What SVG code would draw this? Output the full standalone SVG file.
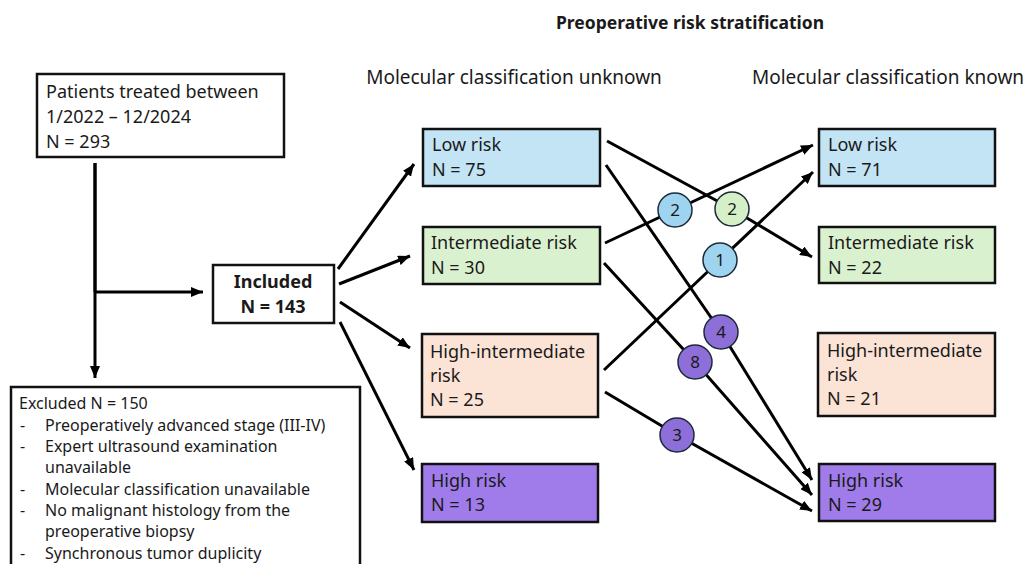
<svg xmlns="http://www.w3.org/2000/svg" width="1024" height="564" viewBox="0 0 1024 564">
<defs>
<marker id="ah" viewBox="0 0 12 10" refX="12" refY="5" markerWidth="12" markerHeight="10" markerUnits="userSpaceOnUse" orient="auto">
<path d="M0,0 L12,5 L0,10 z" fill="#000"/>
</marker>
<style>
text{font-family:"Noto Sans","Liberation Sans",Arial,sans-serif;fill:#1a1a1a;}
.box{stroke:#111;stroke-width:2.5;}
.wb{fill:#fff;}
.low{fill:#c2e4f5;}
.int{fill:#daf1d0;}
.hint{fill:#fbe3d6;}
.high{fill:#a07ceb;}
.t{font-size:18px;}
.ex{font-size:16px;}
.hd{font-size:19px;}
.ttl{font-size:17.5px;font-weight:bold;}
.bold{font-size:18px;font-weight:bold;}
.conn{fill:none;stroke:#000;stroke-width:3;marker-end:url(#ah);}
.ln{fill:none;stroke:#000;stroke-width:3;}
.cc{stroke:#1c2b3a;stroke-width:1.5;}
.cb{fill:#9fd4f0;}
.cg{fill:#d5efc7;}
.cp{fill:#8e6fd9;}
.ct{font-size:17px;text-anchor:middle;}
</style>
</defs>
<rect width="1024" height="564" fill="#fff"/>

<g id="headers">
<text class="ttl" x="690" y="29" text-anchor="middle">Preoperative risk stratification</text>
<text class="hd" x="514" y="84" text-anchor="middle">Molecular classification unknown</text>
<text class="hd" x="888" y="84" text-anchor="middle">Molecular classification known</text>
</g>

<g id="connectors">
<path class="ln" d="M95,163 L95,292"/>
<path class="conn" d="M95,163 L95,378"/>
<path class="conn" d="M95,292 L203,292"/>
<path class="conn" d="M338,269 L414,164"/>
<path class="conn" d="M339,284 L410,256"/>
<path class="conn" d="M340,302 L410,348"/>
<path class="conn" d="M340,322 L414,470"/>
<path class="conn" d="M607,141 L732,209 L812,257"/>
<path class="conn" d="M606,165 L721,332 L812,480"/>
<path class="conn" d="M605,243 L675,210 L813,145"/>
<path class="conn" d="M604,263 L695,362 L812,495"/>
<path class="conn" d="M604,370 L720,260 L813,172"/>
<path class="conn" d="M605,392 L677,435 L812,511"/>
<g id="label-c2blue"><circle class="cc cb" cx="675" cy="210" r="17"/><text class="ct" x="675" y="216">2</text></g>
<g id="label-c2green"><circle class="cc cg" cx="732" cy="209" r="17"/><text class="ct" x="732" y="215">2</text></g>
<g id="label-c1"><circle class="cc cb" cx="720" cy="260" r="17"/><text class="ct" x="720" y="266">1</text></g>
<g id="label-c4"><circle class="cc cp" cx="721" cy="332" r="17"/><text class="ct" x="721" y="338">4</text></g>
<g id="label-c8"><circle class="cc cp" cx="695" cy="362" r="17"/><text class="ct" x="695" y="368">8</text></g>
<g id="label-c3"><circle class="cc cp" cx="677" cy="435" r="17"/><text class="ct" x="677" y="441">3</text></g>
</g>

<g id="patients">
<rect class="box wb" x="37" y="74" width="247" height="83"/>
<text class="t" x="46" y="98">Patients treated between</text>
<text class="t" x="46" y="123">1/2022 – 12/2024</text>
<text class="t" x="46" y="148">N = 293</text>
</g>

<g id="included">
<rect class="box wb" x="213" y="265" width="121" height="58"/>
<text class="bold" x="273" y="288" text-anchor="middle">Included</text>
<text class="bold" x="273" y="313" text-anchor="middle">N = 143</text>
</g>

<g id="excluded">
<rect class="box wb" x="11" y="387" width="349" height="190"/>
<text class="ex" x="19" y="409">Excluded N = 150</text>
<text class="ex" x="20" y="431">-</text><text class="ex" x="45" y="431">Preoperatively advanced stage (III-IV)</text>
<text class="ex" x="20" y="452">-</text><text class="ex" x="45" y="452">Expert ultrasound examination</text>
<text class="ex" x="45" y="473">unavailable</text>
<text class="ex" x="20" y="495">-</text><text class="ex" x="45" y="495">Molecular classification unavailable</text>
<text class="ex" x="20" y="516">-</text><text class="ex" x="45" y="516">No malignant histology from the</text>
<text class="ex" x="45" y="537">preoperative biopsy</text>
<text class="ex" x="20" y="559">-</text><text class="ex" x="45" y="559">Synchronous tumor duplicity</text>
</g>

<g id="u-low">
<rect class="box low" x="423" y="129" width="177" height="57"/>
<text class="t" x="432" y="151">Low risk</text>
<text class="t" x="432" y="176">N =  75</text>
</g>
<g id="u-int">
<rect class="box int" x="423" y="227" width="177" height="57"/>
<text class="t" x="431" y="249">Intermediate risk</text>
<text class="t" x="431" y="274">N = 30</text>
</g>
<g id="u-hint">
<rect class="box hint" x="422" y="334" width="176" height="83"/>
<text class="t" x="430" y="358">High-intermediate</text>
<text class="t" x="430" y="382">risk</text>
<text class="t" x="430" y="406">N = 25</text>
</g>
<g id="u-high">
<rect class="box high" x="422" y="464" width="176" height="58"/>
<text class="t" x="431" y="487">High risk</text>
<text class="t" x="431" y="511">N = 13</text>
</g>

<g id="k-low">
<rect class="box low" x="819" y="129" width="176" height="57"/>
<text class="t" x="828" y="151">Low risk</text>
<text class="t" x="828" y="176">N =  71</text>
</g>
<g id="k-int">
<rect class="box int" x="819" y="227" width="176" height="56"/>
<text class="t" x="828" y="249">Intermediate risk</text>
<text class="t" x="828" y="274">N = 22</text>
</g>
<g id="k-hint">
<rect class="box hint" x="818" y="333" width="177" height="83"/>
<text class="t" x="827" y="357">High-intermediate</text>
<text class="t" x="827" y="381">risk</text>
<text class="t" x="827" y="405">N = 21</text>
</g>
<g id="k-high">
<rect class="box high" x="819" y="464" width="176" height="57"/>
<text class="t" x="828" y="487">High risk</text>
<text class="t" x="828" y="511">N = 29</text>
</g>
</svg>
